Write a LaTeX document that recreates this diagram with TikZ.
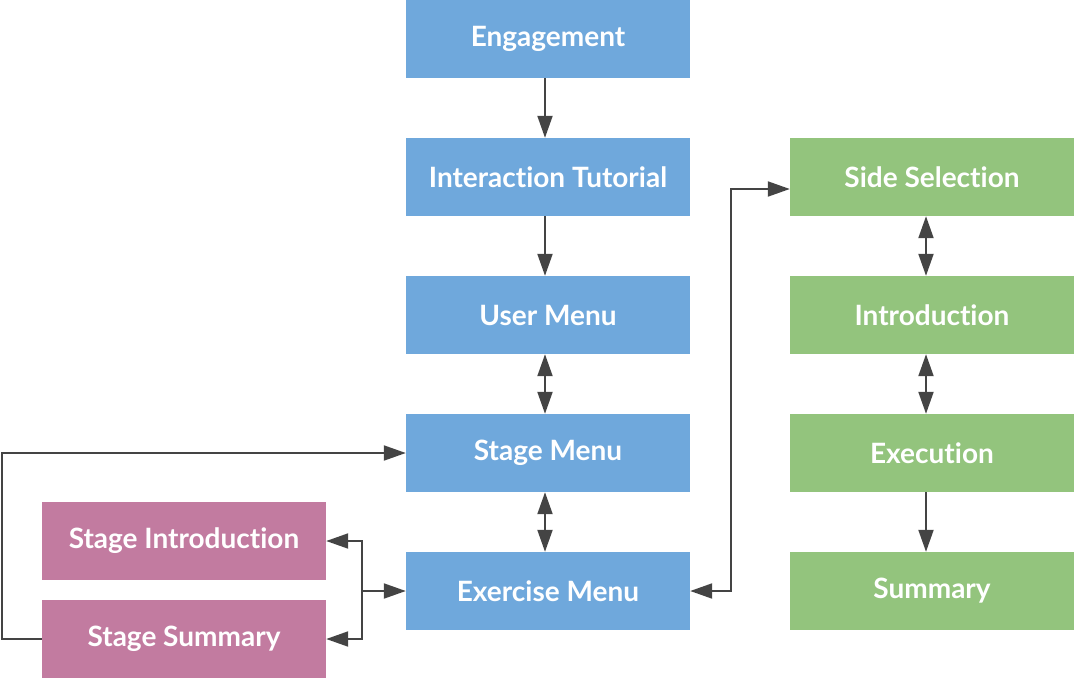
\documentclass[tikz,border=0pt]{standalone}
\usepackage{fontspec}
\setmainfont{Lato}[Ligatures={NoCommon,NoRequired,NoContextual}]
\usetikzlibrary{arrows.meta}
\definecolor{bluebox}{HTML}{6FA8DC}
\definecolor{greenbox}{HTML}{93C47D}
\definecolor{pinkbox}{HTML}{C27BA0}
\definecolor{linec}{HTML}{444444}
\begin{document}
\begin{tikzpicture}[x=1pt,y=-1pt,
  box/.style={minimum width=284pt,minimum height=78pt,inner sep=0pt,text=white,
    font=\fontsize{28}{32}\selectfont\bfseries},
  bbox/.style={box,fill=bluebox},
  gbox/.style={box,fill=greenbox},
  pbox/.style={box,fill=pinkbox},
  conn/.style={draw=linec,line width=2pt,-{Triangle[length=22pt,width=15pt]}},
  dconn/.style={draw=linec,line width=2pt,{Triangle[length=22pt,width=15pt]}-{Triangle[length=22pt,width=15pt]}}
]
\useasboundingbox (0,0) rectangle (1074,678);
\newcommand{\lbl}[1]{\raisebox{-2pt}{#1}}
\node[bbox] (eng) at (548,39) {\lbl{Engagement}};
\node[bbox] (tut) at (548,177) {\lbl{Interaction Tutorial}};
\node[bbox] (um) at (548,315) {\lbl{User Menu}};
\node[bbox] (sm) at (548,453) {\lbl{Stage Menu}};
\node[bbox] (em) at (548,591) {\lbl{Exercise Menu}};
\node[gbox] (ss) at (932,177) {\lbl{Side Selection}};
\node[gbox] (intro) at (932,315) {\lbl{Introduction}};
\node[gbox] (exe) at (932,453) {\lbl{Execution}};
\node[gbox] (sum) at (932,591) {\lbl{Summary}};
\node[pbox] (si) at (184,541) {\lbl{Stage Introduction}};
\node[pbox] (ssum) at (184,639) {\lbl{Stage Summary}};
\coordinate (fork) at (362,591);
\begin{scope}[transform canvas={xshift=-3pt}]
\draw[conn] (eng) -- (tut);
\draw[conn] (tut) -- (um);
\draw[dconn] (um) -- (sm);
\draw[dconn] (sm) -- (em);
\end{scope}
\begin{scope}[transform canvas={xshift=-6pt}]
\draw[dconn] (ss) -- (intro);
\draw[dconn] (intro) -- (exe);
\draw[conn] (exe) -- (sum);
\end{scope}
\draw[dconn] (em.east) -- (731,591) |- ([yshift=-12pt]ss.west);
\draw[conn] (ssum.west) -- (2,639) |- (sm.west);
\draw[conn] (fork) -- (em.west);
\draw[conn] (fork) |- (si.east);
\draw[conn] (fork) |- (ssum.east);
\end{tikzpicture}
\end{document}
